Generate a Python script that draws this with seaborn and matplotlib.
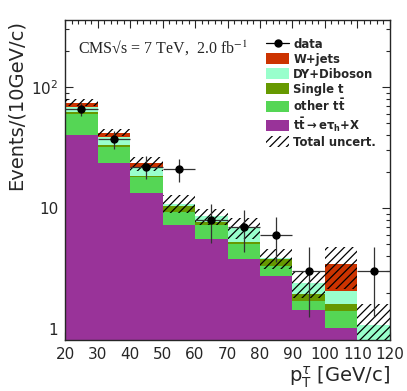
import numpy as np
import pandas as pd
import matplotlib
matplotlib.use("Agg")
import matplotlib.pyplot as plt
from matplotlib.patches import Patch
from matplotlib.lines import Line2D
from matplotlib.ticker import MultipleLocator, LogLocator, FixedFormatter
import seaborn as sns

# ---- data ----
bin_edges = [20, 30, 40, 50, 60, 70, 80, 90, 100, 110, 120]
processes = ["W+jets", "DY+Diboson", "Single t", "other tt", "tt_etau"]
legend_labels = ["W+jets", "DY+Diboson", "Single t",
                 r"other $\mathbf{t\bar{t}}$", r"$\mathbf{t\bar{t}\rightarrow e\tau_{h}}$+X"]
colors = ["#cc3300", "#99ffcc", "#669900", "#55d655", "#993399"]

w_jets   = [6.3, 3.1, 2.1, 0.0, 0.0, 0.0, 0.0, 0.0, 1.38, 0.0]
dy_dibos = [5.8, 5.9, 2.8, 0.5, 0.9, 1.7, 0.1, 0.44, 0.46, 1.08]
single_t = [2.3, 0.8, 0.3, 1.2, 0.4, 0.2, 0.45, 0.25, 0.19, 0.0]
other_tt = [19.7, 8.5, 5.0, 1.96, 1.7, 1.2, 0.57, 0.26, 0.38, 0.0]
tt_etau  = [40.1, 23.7, 13.2, 7.24, 5.6, 3.8, 2.75, 1.44, 1.03, 0.0]
total_unc = [5.0, 2.6, 3.0, 1.8, 1.3, 1.3, 0.75, 0.6, 1.3, 0.53]
data_counts = [66, 37, 22, 21, 8, 7, 6, 3, 0, 3]

xtick_values = [20, 30, 40, 50, 60, 70, 80, 90, 100, 110, 120]
ytick_values = [1, 10, 100]
ytick_labels = ["1", "10", "$10^{2}$"]

# ---- build long table for seaborn ----
edges = np.array(bin_edges, dtype=float)
centers = 0.5 * (edges[:-1] + edges[1:])
series = [w_jets, dy_dibos, single_t, other_tt, tt_etau]
rows = []
for name, vals in zip(processes, series):
    for c, v in zip(centers, vals):
        rows.append({"pt": c, "weight": v, "process": name})
df = pd.DataFrame(rows)

total = np.sum(np.array(series), axis=0)
unc = np.array(total_unc)

# ---- style ----
sns.set_style("ticks")
plt.rcParams["font.family"] = ["DejaVu Sans"]
plt.rcParams["xtick.direction"] = "in"
plt.rcParams["ytick.direction"] = "in"
plt.rcParams["hatch.linewidth"] = 0.9
plt.rcParams["axes.linewidth"] = 1.0

fig = plt.figure(figsize=(4.07, 3.91), dpi=100)
ax = fig.add_axes([0.160, 0.130, 0.798, 0.819])

sns.histplot(data=df, x="pt", weights="weight", hue="process",
             hue_order=processes, palette=colors, bins=bin_edges,
             multiple="stack", element="bars", fill=True, alpha=1,
             linewidth=0, shrink=1, legend=False, ax=ax)

# uncertainty band
ax.bar(edges[:-1], 2 * unc, bottom=total - unc, width=10, align="edge",
       facecolor="none", edgecolor="black", linewidth=0, hatch="////", zorder=3)

# data points
counts = np.array(data_counts, dtype=float)
m = counts > 0
ax.errorbar(centers[m], counts[m], xerr=5, yerr=np.sqrt(counts[m]), fmt="o",
            color="black", ecolor="#333333", elinewidth=0.9, markersize=5,
            capsize=0, zorder=4)

ax.set_yscale("log")
ax.set_xlim(20, 120)
ax.set_ylim(0.81, 358)
ax.set_xticks(xtick_values)
ax.xaxis.set_minor_locator(MultipleLocator(2))
ax.set_yticks(ytick_values)
ax.yaxis.set_major_formatter(FixedFormatter(ytick_labels))
ax.yaxis.set_minor_locator(LogLocator(base=10, subs=np.arange(2, 10)))
ax.yaxis.set_minor_formatter(plt.NullFormatter())
ax.tick_params(which="both", top=True, right=True, labelsize=11, width=0.8)
ax.tick_params(which="major", length=6, pad=5)
ax.tick_params(which="minor", length=3)

ax.set_xlabel(r"$\mathrm{p}_{\mathrm{T}}^{\tau}$ [GeV/c]", fontsize=14, loc="right", labelpad=2)
ax.set_ylabel("Events/(10GeV/c)", fontsize=14, loc="top", labelpad=4)

ax.text(0.04, 0.912, "CMS\u221as = 7 TeV,  2.0 fb$^{-1}$", transform=ax.transAxes,
        fontsize=11.5, family=["Liberation Serif", "DejaVu Serif"], math_fontfamily="stix",
        ha="left", va="center")

handles = [Line2D([0], [0], color="black", marker="o", markersize=5, linewidth=0.9)]
handles += [Patch(facecolor=c, edgecolor="none") for c in colors]
handles.append(Patch(facecolor="none", edgecolor="black", hatch="////", linewidth=0))
labels = ["data"] + legend_labels + ["Total uncert."]
ax.legend(handles, labels, loc="upper left", bbox_to_anchor=(0.62, 0.945),
          frameon=False, prop={"weight": "bold", "size": 8.4},
          handlelength=1.95, handleheight=1.1, handletextpad=0.35,
          labelspacing=0.17, borderpad=0, borderaxespad=0)

fig.savefig("out.png", dpi=100)
